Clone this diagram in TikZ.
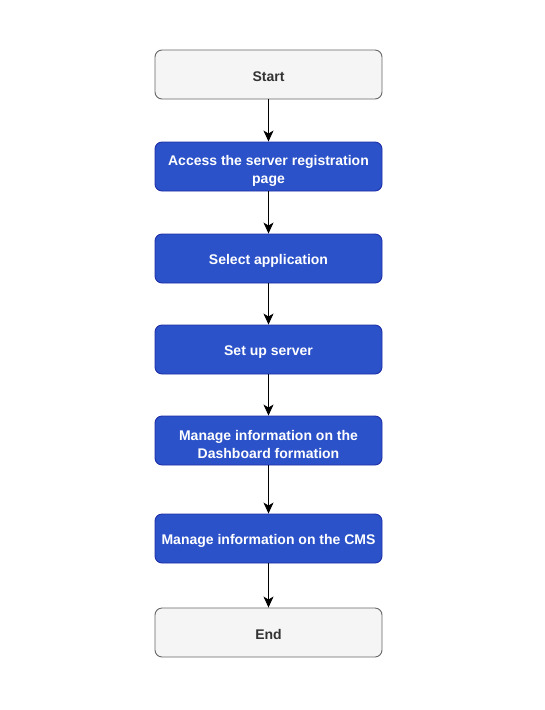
\documentclass[tikz,border=0pt]{standalone}
\usepackage{fontspec}
\setmainfont{Liberation Sans}
\usetikzlibrary{arrows.meta}
\definecolor{bluefill}{HTML}{2B52C9}
\definecolor{blueline}{HTML}{1F2FA8}
\definecolor{greyfill}{HTML}{F5F5F5}
\definecolor{greyline}{HTML}{666666}
\definecolor{greytext}{HTML}{333333}
\newcommand{\topstrut}[1][15pt]{\rule{0pt}{#1}}
\tikzset{
  stepbox/.style={draw=blueline, fill=bluefill, rounded corners=7pt, line width=0.9pt,
    minimum width=227pt, minimum height=49pt, align=center,
    text=white, font=\bfseries\fontsize{14pt}{18pt}\selectfont, inner sep=0pt},
  termbox/.style={stepbox, draw=greyline, fill=greyfill, text=greytext},
  flow/.style={-{Stealth[length=11pt,width=10pt,inset=3pt]}, line width=1pt}
}
\begin{document}
\begin{tikzpicture}[x=1pt,y=-1pt]
      \useasboundingbox (0,0) rectangle (545,710);
      \draw
        (268.5,74.5) node[termbox] (start){\topstrut Start}
        (268.5,166.5) node[stepbox] (access){\topstrut[19pt]Access the server registration\\page}
        (268.5,258.5) node[stepbox] (select){\topstrut Select application}
        (268.5,349.5) node[stepbox] (setup){\topstrut Set up server}
        (268.5,440.5) node[stepbox] (dash){\topstrut[19pt]Manage information on the\\Dashboard formation}
        (268.5,538.5) node[stepbox] (cms){\topstrut Manage information on the CMS}
        (268.5,632.5) node[termbox] (end){\topstrut End};
      \begin{scope}[flow]
        \draw (start) to (access);
        \draw (access) to (select);
        \draw (select) to (setup);
        \draw (setup) to (dash);
        \draw (dash) to (cms);
        \draw (cms) to (end);
      \end{scope}
    \end{tikzpicture}
\end{document}
